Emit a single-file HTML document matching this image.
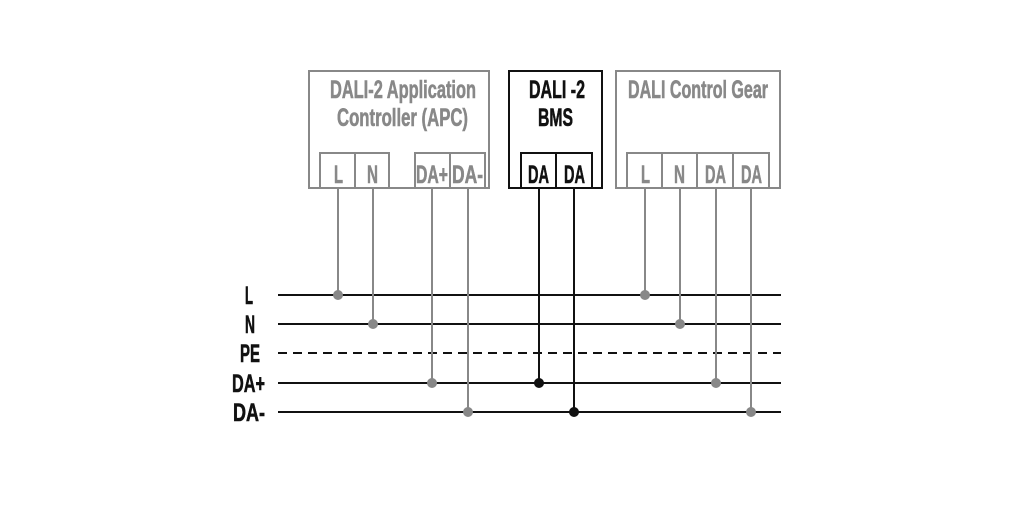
<!DOCTYPE html>
<html><head><meta charset="utf-8"><style>
html,body{margin:0;padding:0;background:#fff;}
svg{display:block;}
text{font-family:"Liberation Sans",sans-serif;font-weight:bold;}
</style></head><body>
<svg width="1016" height="531" viewBox="0 0 1016 531" xmlns="http://www.w3.org/2000/svg">
<g stroke="#111" stroke-width="2">
<line x1="278" y1="295" x2="781" y2="295"/>
<line x1="278" y1="324" x2="781" y2="324"/>
<line x1="278" y1="353" x2="781" y2="353" stroke-dasharray="9,6"/>
<line x1="278" y1="383" x2="781" y2="383"/>
<line x1="278" y1="412" x2="781" y2="412"/>
</g>
<g font-size="25" fill="#111" stroke="#111" stroke-width="0.6">
<text x="245" y="304" textLength="8" lengthAdjust="spacingAndGlyphs">L</text>
<text x="245" y="333" textLength="10" lengthAdjust="spacingAndGlyphs">N</text>
<text x="240" y="362" textLength="20" lengthAdjust="spacingAndGlyphs">PE</text>
<text x="232" y="392" textLength="33" lengthAdjust="spacingAndGlyphs">DA+</text>
<text x="233" y="421" textLength="32" lengthAdjust="spacingAndGlyphs">DA-</text>
</g>
<g stroke="#888" stroke-width="2" fill="none">
<rect x="309" y="71" width="180" height="117"/>
<rect x="320" y="153" width="35" height="35"/>
<rect x="355" y="153" width="34" height="35"/>
<rect x="415" y="153" width="35" height="35"/>
<rect x="450" y="153" width="35" height="35"/>
<rect x="616" y="71" width="164" height="117"/>
<rect x="627" y="153" width="35" height="35"/>
<rect x="662" y="153" width="35" height="35"/>
<rect x="697" y="153" width="36" height="35"/>
<rect x="733" y="153" width="36" height="35"/>
<line x1="338" y1="188" x2="338" y2="295"/>
<line x1="373" y1="188" x2="373" y2="324"/>
<line x1="432" y1="188" x2="432" y2="383"/>
<line x1="468" y1="188" x2="468" y2="412"/>
<line x1="645" y1="188" x2="645" y2="295"/>
<line x1="680" y1="188" x2="680" y2="324"/>
<line x1="716" y1="188" x2="716" y2="383"/>
<line x1="751" y1="188" x2="751" y2="412"/>
</g>
<g fill="#888">
<circle cx="338" cy="295" r="5"/><circle cx="373" cy="324" r="5"/>
<circle cx="432" cy="383" r="5"/><circle cx="468" cy="412" r="5"/>
<circle cx="645" cy="295" r="5"/><circle cx="680" cy="324" r="5"/>
<circle cx="716" cy="383" r="5"/><circle cx="751" cy="412" r="5"/>
</g>
<g fill="#888" font-size="25" stroke="#888" stroke-width="0.6">
<text x="330" y="98" textLength="146" lengthAdjust="spacingAndGlyphs">DALI-2 Application</text>
<text x="337" y="126" textLength="131" lengthAdjust="spacingAndGlyphs">Controller (APC)</text>
<text x="334" y="183" textLength="9" lengthAdjust="spacingAndGlyphs">L</text>
<text x="367" y="183" textLength="11" lengthAdjust="spacingAndGlyphs">N</text>
<text x="416" y="183" textLength="32" lengthAdjust="spacingAndGlyphs">DA+</text>
<text x="452" y="183" textLength="31" lengthAdjust="spacingAndGlyphs">DA-</text>
<text x="628" y="98" textLength="140" lengthAdjust="spacingAndGlyphs">DALI Control Gear</text>
<text x="641" y="183" textLength="9" lengthAdjust="spacingAndGlyphs">L</text>
<text x="674" y="183" textLength="11" lengthAdjust="spacingAndGlyphs">N</text>
<text x="705" y="183" textLength="21" lengthAdjust="spacingAndGlyphs">DA</text>
<text x="741" y="183" textLength="21" lengthAdjust="spacingAndGlyphs">DA</text>
</g>
<g stroke="#111" stroke-width="2" fill="none">
<rect x="509" y="71" width="93" height="117"/>
<rect x="521" y="153" width="35" height="35"/>
<rect x="556" y="153" width="36" height="35"/>
<line x1="539" y1="188" x2="539" y2="383"/>
<line x1="574" y1="188" x2="574" y2="412"/>
</g>
<g fill="#111">
<circle cx="539" cy="383" r="5"/><circle cx="574" cy="412" r="5"/>
</g>
<g fill="#111" font-size="25" stroke="#111" stroke-width="0.6">
<text x="529" y="98" textLength="56" lengthAdjust="spacingAndGlyphs">DALI -2</text>
<text x="538" y="126" textLength="35" lengthAdjust="spacingAndGlyphs">BMS</text>
<text x="528" y="183" textLength="21" lengthAdjust="spacingAndGlyphs">DA</text>
<text x="564" y="183" textLength="21" lengthAdjust="spacingAndGlyphs">DA</text>
</g>
</svg>
</body></html>
